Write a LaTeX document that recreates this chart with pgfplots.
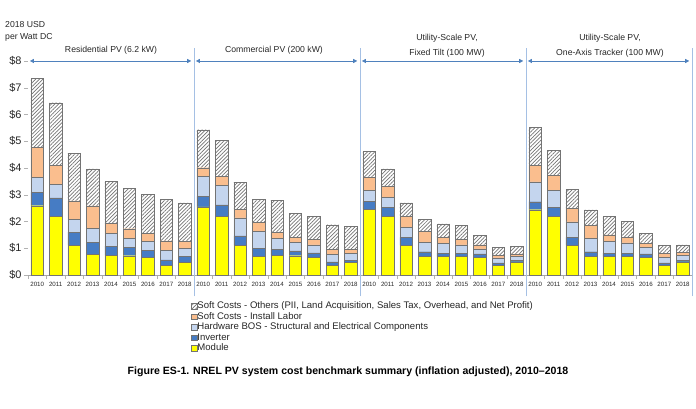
\documentclass[border=0pt]{standalone}
\usepackage{fontspec}
\setmainfont{Liberation Sans}
\usepackage{pgfplots}
\pgfplotsset{compat=1.18}
\usepackage{pgfplotstable}
\usetikzlibrary{patterns.meta,arrows.meta}

\definecolor{cmod}{RGB}{255,255,0}
\definecolor{cinv}{RGB}{70,124,196}
\definecolor{cbos}{RGB}{196,213,238}
\definecolor{clab}{RGB}{250,190,142}
\definecolor{carrow}{RGB}{79,129,189}
\definecolor{csep}{RGB}{165,192,228}

% x M I B L O T  (increments; T = total)
\pgfplotstableread{
x M I B L O T
0 2.59 0.50 0.55 1.13 2.57 7.34
1 2.18 0.70 0.51 0.72 2.33 6.44
2 1.12 0.48 0.49 0.68 1.78 4.55
3 0.77 0.45 0.52 0.84 1.39 3.97
4 0.74 0.34 0.48 0.36 1.57 3.49
5 0.72 0.31 0.34 0.36 1.50 3.23
6 0.65 0.26 0.35 0.30 1.46 3.02
7 0.35 0.22 0.34 0.37 1.56 2.84
8 0.47 0.23 0.30 0.25 1.45 2.70
9 2.55 0.39 0.74 0.33 1.42 5.43
10 2.18 0.44 0.72 0.34 1.36 5.04
11 1.12 0.34 0.68 0.31 1.02 3.47
12 0.70 0.30 0.64 0.32 0.86 2.82
13 0.74 0.21 0.42 0.23 1.20 2.80
14 0.72 0.18 0.33 0.19 0.88 2.30
15 0.65 0.18 0.30 0.20 0.87 2.20
16 0.35 0.14 0.28 0.19 0.92 1.88
17 0.47 0.09 0.25 0.16 0.86 1.83
18 2.45 0.30 0.42 0.49 0.97 4.63
19 2.18 0.35 0.37 0.41 0.66 3.97
20 1.12 0.29 0.36 0.41 0.52 2.70
21 0.69 0.18 0.35 0.40 0.45 2.07
22 0.69 0.13 0.36 0.24 0.49 1.91
23 0.69 0.13 0.31 0.19 0.53 1.85
24 0.65 0.14 0.19 0.15 0.34 1.47
25 0.35 0.10 0.19 0.10 0.30 1.04
26 0.49 0.05 0.16 0.09 0.27 1.06
27 2.44 0.30 0.74 0.63 1.41 5.52
28 2.18 0.35 0.64 0.56 0.92 4.65
29 1.12 0.29 0.58 0.51 0.70 3.20
30 0.69 0.18 0.50 0.49 0.57 2.43
31 0.69 0.13 0.44 0.24 0.68 2.18
32 0.69 0.13 0.38 0.21 0.59 2.00
33 0.65 0.14 0.24 0.15 0.38 1.56
34 0.35 0.10 0.22 0.14 0.31 1.12
35 0.49 0.05 0.20 0.11 0.28 1.13
}\data

\pgfplotsset{
  mylegend/.style={legend image code/.code={\draw[##1,draw=black!55,line width=0.4pt] (0bp,-2.7bp) rectangle (5.4bp,2.7bp);}},
}

\begin{document}
\begin{tikzpicture}
\useasboundingbox (0,0) rectangle (696bp,-409bp);
\begin{axis}[
  at={(28bp,-275bp)}, anchor=south west,
  scale only axis, width=664bp, height=227.4bp,
  ybar stacked, bar width=12.5bp,
  xmin=-0.5, xmax=35.5, ymin=0, ymax=8.5,
  clip=false,
  axis x line*=bottom, axis y line*=left,
  x axis line style={-, draw=black!35},
  y axis line style={-, draw=none},
  /pgf/number format/assume math mode=true,
  tick align=outside, major tick length=4bp, minor tick length=4bp,
  tick style={draw=black!30, line width=0.4pt},
  ytick={0,1,...,8},
  yticklabels={\$0,\$1,\$2,\$3,\$4,\$5,\$6,\$7,\$8},
  yticklabel style={font=\fontsize{11}{12}\selectfont, text=black!85, xshift=1bp},
  xtick={0,1,...,35},
  major x tick style={draw=none},
  xticklabels={2010,2011,2012,2013,2014,2015,2016,2017,2018,2010,2011,2012,2013,2014,2015,2016,2017,2018,2010,2011,2012,2013,2014,2015,2016,2017,2018,2010,2011,2012,2013,2014,2015,2016,2017,2018},
  xticklabel style={font=\fontsize{6.2}{7}\selectfont, text=black!85, yshift=0.5bp},
  minor xtick={-0.5,0.5,...,35.5},
  legend style={at={(0.2455,-0.114)}, anchor=north west, draw=none, fill=none,
    font=\fontsize{9.6}{10}\selectfont, text=black!85, row sep=0pt, inner sep=0pt,
    nodes={inner sep=0.4bp, text height=7.3bp, text depth=2.4bp}},
  legend cell align=left,
  reverse legend,
]
\addplot[fill=cmod, draw=black!55, line width=0.4pt, mylegend] table[x=x,y=M] {\data};
\addlegendentry{Module}
\addplot[fill=cinv, draw=black!55, line width=0.4pt, mylegend] table[x=x,y=I] {\data};
\addlegendentry{Inverter}
\addplot[fill=cbos, draw=black!55, line width=0.4pt, mylegend] table[x=x,y=B] {\data};
\addlegendentry{Hardware BOS - Structural and Electrical Components}
\addplot[fill=clab, draw=black!55, line width=0.4pt, mylegend] table[x=x,y=L] {\data};
\addlegendentry{Soft Costs - Install Labor}
\addplot[draw=black!55, line width=0.4pt, pattern={Lines[angle=45,distance=2.6bp,line width=0.7bp]}, pattern color=black!55, mylegend] table[x=x,y=O] {\data};
\addlegendentry{Soft Costs - Others (PII, Land Acquisition, Sales Tax, Overhead, and Net Profit)}
% zero-height series carrying the totals as labels
\addplot[draw=none, fill=none, forget plot, point meta=explicit,
  nodes near coords={\pgfmathprintnumber[fixed,fixed zerofill,precision=2]{\pgfplotspointmeta}},
  every node near coord/.append style={anchor=south, inner sep=0pt, yshift=6bp, font=\fontsize{8}{9}\selectfont, text=black!85}]
  table[x=x, y expr=0, meta=T] {\data};

% separators and arrows
\foreach \s in {8.5,17.5,26.5,35.5}{
  \edef\tmp{\noexpand\draw[csep, line width=0.6pt] (axis cs:\s,-0.8) -- (axis cs:\s,8.5);}\tmp
}
\foreach \g in {0,9,18,27}{
  \edef\tmp{\noexpand\draw[carrow, line width=0.6pt, {Triangle[length=4bp,width=4bp]}-{Triangle[length=4bp,width=4bp]}] (axis cs:\g-0.4,8) -- (axis cs:\g+8.35,8);}\tmp
}
\end{axis}
\node[anchor=west, align=left, font=\fontsize{8.7}{12}\selectfont, text=black!85, inner sep=0pt] at (5bp,-31.5bp) {2018 USD\\per Watt DC};
\node[font=\fontsize{8.7}{10}\selectfont, text=black!85] at (111bp,-50.5bp) {Residential PV (6.2 kW)};
\node[font=\fontsize{8.7}{10}\selectfont, text=black!85] at (274bp,-50.5bp) {Commercial PV (200 kW)};
\node[font=\fontsize{8.7}{15}\selectfont, text=black!85, align=center] at (447bp,-45.5bp) {Utility-Scale PV,\\Fixed Tilt (100 MW)};
\node[font=\fontsize{8.7}{15}\selectfont, text=black!85, align=center] at (610bp,-45.5bp) {Utility-Scale PV,\\One-Axis Tracker (100 MW)};
\node[font=\bfseries\fontsize{10.6}{12}\selectfont] at (348bp,-372bp) {Figure ES-1. NREL PV system cost benchmark summary (inflation adjusted), 2010--2018};
\end{tikzpicture}
\end{document}
